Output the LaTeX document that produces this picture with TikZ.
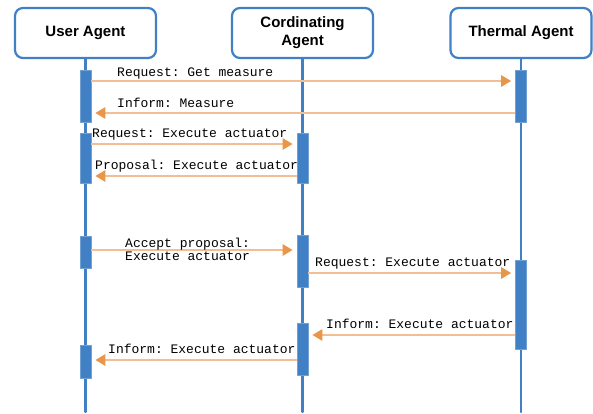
\documentclass[tikz,border=0pt]{standalone}
\usepackage{fontspec}
\setmainfont{Liberation Sans}
\newfontfamily\msgfont{Liberation Mono}
\usetikzlibrary{arrows.meta}
\definecolor{agentblue}{RGB}{65,128,196}
\definecolor{msgline}{RGB}{242,190,148}
\definecolor{msgtip}{RGB}{234,150,74}
\frenchspacing

\begin{document}
\begin{tikzpicture}[line cap=round,line join=round,x=1pt,y=-1pt,
	agent/.style={draw=agentblue,line width=2.2pt,rounded corners=8pt,fill=white,minimum width=141pt,minimum height=50pt,align=center,font=\fontsize{15}{18}\selectfont\bfseries},
	life/.style={draw=agentblue,line width=2.2pt},
	bar/.style={fill=agentblue,draw=agentblue!75!white,line width=0.6pt,minimum width=11pt,inner sep=0pt},
	msg/.style={draw=msgline,line width=2.8pt,line cap=butt,shorten >=4pt,-{Triangle[length=10pt,width=11pt,color=msgtip]}},
	lbl/.style={anchor=base west,inner sep=0pt,text=black,font=\msgfont\fontsize{13}{15}\selectfont}]
			\useasboundingbox (0,0) rectangle (593,414);
			% agents
			\node[agent] (ua) at (85.5,33) {User Agent};
			\node[agent] (ca) at (302.5,33) {Cordinating\\Agent};
			\node[agent] (ta) at (521,33) {Thermal Agent};
			\coordinate (bot) at (0,412);
			\draw[life] (ua.south) -- (ua |- bot);
			\draw[life] (ca.south) -- (ca |- bot);
			\draw[life] (ta.south) -- (ta |- bot);
			% activation bars
			\node[bar,minimum height=52pt] (u1) at (85.5,96) {};
			\node[bar,minimum height=52pt] (t1) at (521,96) {};
			\node[bar,minimum height=50pt] (u2) at (85.5,158) {};
			\node[bar,minimum height=50pt] (c1) at (302.5,158) {};
			\node[bar,minimum height=32pt] (u3) at (85.5,252) {};
			\node[bar,minimum height=52pt] (c2) at (302.5,261) {};
			\node[bar,minimum height=89pt] (t2) at (521,304.5) {};
			\node[bar,minimum height=52pt] (c3) at (302.5,349) {};
			\node[bar,minimum height=33pt] (u4) at (85.5,361.5) {};
			% messages
			\draw[msg] (u1.east |- 0,81) -- (t1.west |- 0,81);
			\draw[msg] (t1.west |- 0,113) -- (u1.east |- 0,113);
			\draw[msg] (u2.east |- 0,144) -- (c1.west |- 0,144);
			\draw[msg] (c1.west |- 0,176) -- (u2.east |- 0,176);
			\draw[msg] (u3.east |- 0,250) -- (c2.west |- 0,250);
			\draw[msg] (c2.east |- 0,273) -- (t2.west |- 0,273);
			\draw[msg] (t2.west |- 0,335) -- (c3.east |- 0,335);
			\draw[msg] (c3.west |- 0,360) -- (u4.east |- 0,360);
			% labels
			\node[lbl] (l1) at (117,77) {Request: Get measure};
			\node[lbl] (l2) at (117,108) {Inform: Measure};
			\node[lbl] (l3) at (92,138) {Request: Execute actuator};
			\node[lbl] (l4) at (95,169) {Proposal: Execute actuator};
			\node[lbl] (l5a) at (125,247) {Accept proposal:};
			\node[lbl] (l5b) at (125,260) {Execute actuator};
			\node[lbl] (l6) at (315,266) {Request: Execute actuator};
			\node[lbl] (l7) at (326,328) {Inform: Execute actuator};
			\node[lbl] (l8) at (108,353) {Inform: Execute actuator};
		\end{tikzpicture}
\end{document}
